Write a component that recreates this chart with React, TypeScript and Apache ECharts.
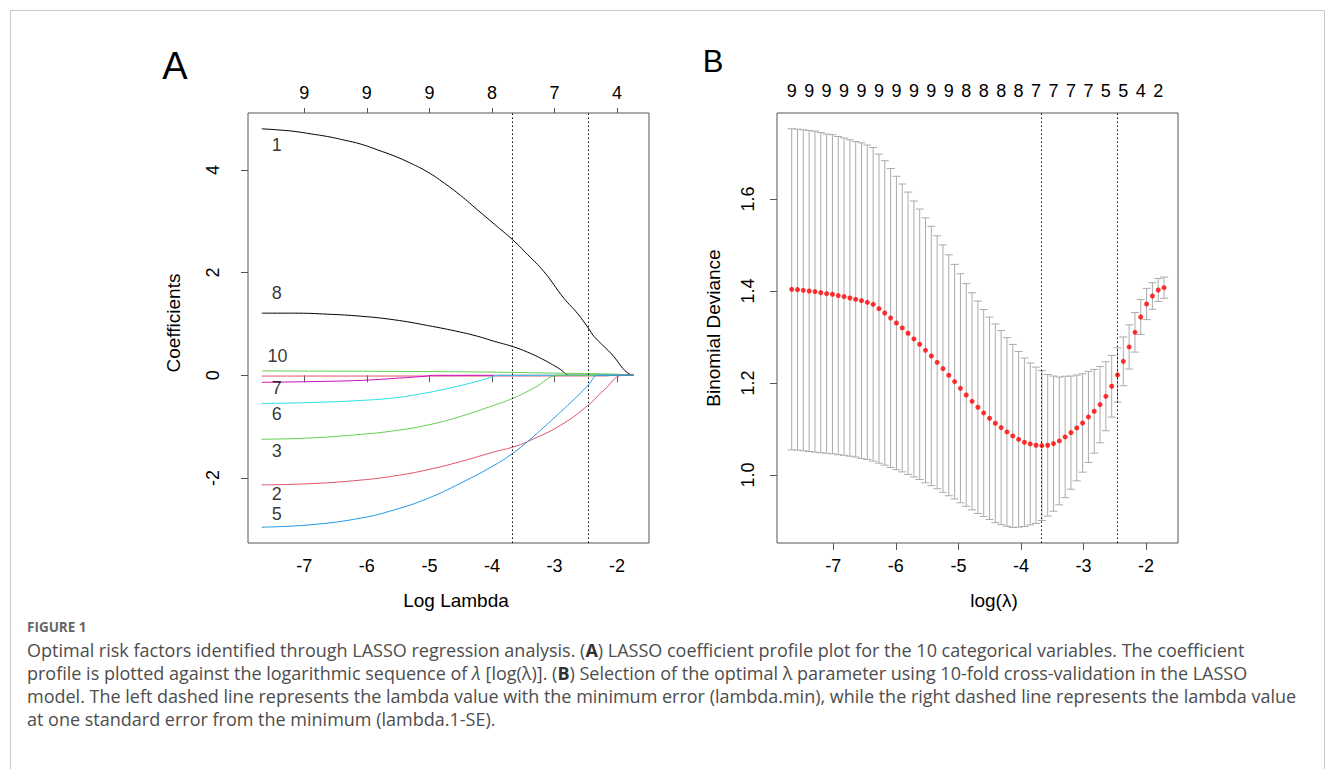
import React, { useEffect, useRef } from "react";
import * as echarts from "echarts";

// ---------- Panel A: LASSO coefficient paths (log lambda vs coefficient) ----------
const xTicks = [-7, -6, -5, -4, -3, -2];
const topLabelsA = ["9", "9", "9", "8", "7", "4"];
const coefTicks = [-2, 0, 2, 4];

const v1X = [-7.68, -7.43, -7.16, -6.89, -6.63, -6.36, -6.09, -5.83, -5.56, -5.3, -5.03, -4.76, -4.5, -4.23, -3.96, -3.67, -3.43, -3.17, -2.85, -2.63, -2.46, -2.37, -2.1, -1.78, -1.73];
const v1Y = [4.8, 4.78, 4.75, 4.7, 4.65, 4.58, 4.5, 4.39, 4.27, 4.13, 3.96, 3.74, 3.5, 3.22, 2.94, 2.64, 2.35, 2.02, 1.5, 1.2, 0.92, 0.76, 0.43, 0.01, 0];
const v8X = [-7.68, -7.16, -6.63, -6.09, -5.56, -5.03, -4.5, -4.23, -3.96, -3.67, -3.43, -3.17, -2.9, -2.77, -2.7, -1.73];
const v8Y = [1.21, 1.21, 1.19, 1.15, 1.08, 0.97, 0.84, 0.76, 0.66, 0.56, 0.45, 0.3, 0.11, 0, 0, 0];
const v10X = [-7.68, -5.83, -4.23, -3.17, -2.1, -1.73];
const v10Y = [0.085, 0.077, 0.065, 0.045, 0.025, 0];
const v9X = [-7.68, -2.2, -2.0, -1.9, -1.73];
const v9Y = [-0.015, -0.012, 0, 0, 0];
const v7X = [-7.68, -6.89, -6.09, -5.56, -5.03, -4.95, -4.85, -1.73];
const v7Y = [-0.137, -0.123, -0.099, -0.06, -0.014, 0, 0, 0];
const v6X = [-7.68, -6.89, -6.09, -5.56, -5.22, -4.68, -4.15, -3.88, -3.78, -1.73];
const v6Y = [-0.55, -0.53, -0.49, -0.44, -0.38, -0.25, -0.09, 0, 0, 0];
const v3X = [-7.68, -6.89, -6.09, -5.56, -5.03, -4.5, -3.96, -3.67, -3.33, -2.93, -2.83, -1.73];
const v3Y = [-1.246, -1.22, -1.15, -1.08, -0.97, -0.8, -0.58, -0.45, -0.25, 0, 0, 0];
const v2X = [-7.68, -6.89, -6.09, -5.56, -5.03, -4.5, -3.96, -3.67, -3.43, -2.9, -2.46, -2.21, -1.91, -1.85, -1.73];
const v2Y = [-2.134, -2.11, -2.04, -1.96, -1.84, -1.68, -1.49, -1.4, -1.29, -0.97, -0.58, -0.29, 0, 0, 0];
const v5X = [-7.68, -6.89, -6.09, -5.56, -5.03, -4.5, -3.96, -3.67, -3.43, -3.17, -2.9, -2.63, -2.46, -2.31, -2.22, -1.73];
const v5Y = [-2.958, -2.91, -2.78, -2.62, -2.4, -2.1, -1.75, -1.52, -1.29, -1.01, -0.71, -0.4, -0.19, 0, 0, 0];

const curveLabelText = ["1", "8", "10", "7", "6", "3", "2", "5"];
const curveLabelX = [-7.44, -7.44, -7.43, -7.44, -7.44, -7.44, -7.44, -7.44];
const curveLabelY = [4.49, 1.6, 0.38, -0.25, -0.75, -1.47, -2.32, -2.7];

const lambdaLines = [-3.666, -2.457];

// ---------- Panel B: cross-validation binomial deviance ----------
const cvLogLambda = [
  -7.665, -7.572, -7.479, -7.386, -7.293, -7.2, -7.107, -7.014, -6.921, -6.828,
  -6.735, -6.642, -6.549, -6.456, -6.363, -6.27, -6.177, -6.084, -5.991, -5.898,
  -5.805, -5.712, -5.619, -5.526, -5.433, -5.34, -5.247, -5.154, -5.061, -4.968,
  -4.875, -4.782, -4.689, -4.596, -4.503, -4.41, -4.317, -4.224, -4.131, -4.038,
  -3.945, -3.852, -3.759, -3.666, -3.573, -3.48, -3.387, -3.294, -3.201, -3.108,
  -3.015, -2.922, -2.829, -2.736, -2.643, -2.55, -2.457, -2.364, -2.271, -2.178,
  -2.085, -1.992, -1.899, -1.806, -1.713,
];
const cvMean = [
  1.4036, 1.4029, 1.4014, 1.4, 1.3986, 1.3964, 1.3942, 1.3928, 1.3899, 1.3877,
  1.3848, 1.3819, 1.379, 1.3754, 1.371, 1.3616, 1.3522, 1.3413, 1.3304, 1.3196,
  1.308, 1.2957, 1.2841, 1.271, 1.2587, 1.2449, 1.2312, 1.2167, 1.2029, 1.1884,
  1.1739, 1.1601, 1.1471, 1.1348, 1.1232, 1.1123, 1.1029, 1.0935, 1.0848, 1.0775,
  1.071, 1.0674, 1.0645, 1.0638, 1.0645, 1.0681, 1.0739, 1.0826, 1.092, 1.1022,
  1.113, 1.1261, 1.1384, 1.1529, 1.171, 1.1928, 1.2174, 1.2471, 1.2783, 1.3101,
  1.3435, 1.3717, 1.3891, 1.4022, 1.4072,
];
const cvSe = [
  0.349, 0.349, 0.349, 0.349, 0.349, 0.348, 0.347, 0.347, 0.346, 0.345,
  0.344, 0.343, 0.343, 0.342, 0.341, 0.336, 0.331, 0.325, 0.319, 0.313,
  0.307, 0.3, 0.294, 0.288, 0.282, 0.275, 0.269, 0.262, 0.255, 0.249,
  0.242, 0.236, 0.231, 0.225, 0.22, 0.216, 0.211, 0.205, 0.199, 0.191,
  0.183, 0.176, 0.17, 0.163, 0.154, 0.147, 0.139, 0.132, 0.123, 0.115,
  0.107, 0.099, 0.091, 0.083, 0.075, 0.067, 0.059, 0.053, 0.048, 0.043,
  0.038, 0.034, 0.029, 0.025, 0.023,
];
const cvTopNz = ["9", "9", "9", "9", "9", "9", "9", "9", "9", "9", "8", "8", "8", "8", "7", "7", "7", "7", "5", "5", "4", "2"];
const devTicks = [1.0, 1.2, 1.4, 1.6];

const FONT = "'Liberation Sans', Arial, Helvetica, sans-serif";
const CAP_FONT = "'Open Sans', 'Noto Sans', sans-serif";

const zip = (xs: number[], ys: number[]) => xs.map((x, i) => [x, ys[i]]);
const nearestIdx = (arr: number[], v: number) => {
  let best = 0;
  for (let i = 1; i < arr.length; i++) if (Math.abs(arr[i] - v) < Math.abs(arr[best] - v)) best = i;
  return best;
};

export default function App() {
  const ref = useRef<HTMLDivElement>(null);
  useEffect(() => {
    const chart = echarts.init(ref.current!, null, { renderer: "svg", width: 1335, height: 769 });
    const cvTopPos = cvTopNz.map((_, i) => cvLogLambda[i * 3]);
    const XMIN = -7.9;
    const XMAX = -1.49;

    const paths = [
      { name: "V1", x: v1X, y: v1Y, color: "#000000" },
      { name: "V8", x: v8X, y: v8Y, color: "#000000" },
      { name: "V10", x: v10X, y: v10Y, color: "#61D04F" },
      { name: "V9", x: v9X, y: v9Y, color: "#DF536B" },
      { name: "V7", x: v7X, y: v7Y, color: "#CD0BBC" },
      { name: "V6", x: v6X, y: v6Y, color: "#28E2E5" },
      { name: "V3", x: v3X, y: v3Y, color: "#61D04F" },
      { name: "V2", x: v2X, y: v2Y, color: "#DF536B" },
      { name: "V5", x: v5X, y: v5Y, color: "#2297E6" },
    ];

    const axisText = { color: "#000", fontSize: 18, fontFamily: FONT };
    const tickStyle = { lineStyle: { color: "#555", width: 1 } };
    const dotted = {
      silent: true,
      symbol: ["none", "none"],
      label: { show: false },
      lineStyle: { color: "#000", width: 1, type: [1.5, 2.5] as any },
      data: lambdaLines.map((v) => ({ xAxis: v })),
    };

    const capStyle = { fontSize: 18, fontFamily: CAP_FONT, fill: "#4d4d4d" };
    const captionRich = {
      b: { ...capStyle, fontWeight: "bold" as any, fill: "#333" },
      i: { ...capStyle, fontStyle: "italic" as any },
    };
    const capLines = [
      "Optimal risk factors identified through LASSO regression analysis. ({b|A}) LASSO coefficient profile plot for the 10 categorical variables. The coefficient",
      "profile is plotted against the logarithmic sequence of {i|λ} [log(λ)]. ({b|B}) Selection of the optimal λ parameter using 10-fold cross-validation in the LASSO",
      "model. The left dashed line represents the lambda value with the minimum error (lambda.min), while the right dashed line represents the lambda value",
      "at one standard error from the minimum (lambda.1-SE).",
    ];

    const option: any = {
      animation: false,
      backgroundColor: "#fff",
      grid: [
        { left: 248, top: 113, width: 401, height: 430, show: true, borderColor: "#555", borderWidth: 1, backgroundColor: "transparent" },
        { left: 777, top: 113, width: 401, height: 430, show: true, borderColor: "#555", borderWidth: 1, backgroundColor: "transparent" },
      ],
      xAxis: [
        {
          type: "value", gridIndex: 0, position: "bottom", min: XMIN, max: XMAX,
          axisLine: { show: false }, splitLine: { show: false },
          axisTick: { show: true, length: 7, customValues: xTicks, ...tickStyle },
          axisLabel: { ...axisText, margin: 14, customValues: xTicks, formatter: (v: number) => String(v) },
        },
        {
          type: "value", gridIndex: 0, position: "top", min: XMIN, max: XMAX,
          axisLine: { show: false }, splitLine: { show: false },
          axisTick: { show: true, length: 5, customValues: xTicks, ...tickStyle },
          axisLabel: { ...axisText, margin: 11, customValues: xTicks, formatter: (v: number) => topLabelsA[nearestIdx(xTicks, v)] },
        },
        {
          type: "value", gridIndex: 1, position: "bottom", min: XMIN, max: XMAX,
          axisLine: { show: false }, splitLine: { show: false },
          axisTick: { show: true, length: 7, customValues: xTicks, ...tickStyle },
          axisLabel: { ...axisText, margin: 14, customValues: xTicks, formatter: (v: number) => String(v) },
        },
        {
          type: "value", gridIndex: 1, position: "top", min: XMIN, max: XMAX,
          axisLine: { show: false }, splitLine: { show: false },
          axisTick: { show: false },
          axisLabel: { ...axisText, margin: 13, customValues: cvTopPos, formatter: (v: number) => cvTopNz[nearestIdx(cvTopPos, v)] },
        },
      ],
      yAxis: [
        {
          type: "value", gridIndex: 0, min: -3.266, max: 5.108,
          axisLine: { show: false }, splitLine: { show: false },
          axisTick: { show: true, length: 7, customValues: coefTicks, ...tickStyle },
          axisLabel: { ...axisText, rotate: 90, margin: 26, customValues: coefTicks, formatter: (v: number) => String(v) },
        },
        {
          type: "value", gridIndex: 1, min: 0.852, max: 1.787,
          axisLine: { show: false }, splitLine: { show: false },
          axisTick: { show: true, length: 7, customValues: devTicks, ...tickStyle },
          axisLabel: { ...axisText, rotate: 90, margin: 20, customValues: devTicks, formatter: (v: number) => v.toFixed(1) },
        },
      ],
      series: [
        ...paths.map((p) => ({
          type: "line", name: p.name, xAxisIndex: 0, yAxisIndex: 0,
          data: zip(p.x, p.y), showSymbol: false, symbol: "none",
          smooth: 0.45,
          lineStyle: { color: p.color, width: 1 }, silent: true, z: 3,
        })),
        {
          type: "scatter", name: "labelsA", xAxisIndex: 0, yAxisIndex: 0,
          symbolSize: 0, silent: true,
          data: curveLabelText.map((t, i) => ({ value: [curveLabelX[i], curveLabelY[i]], name: t })),
          label: { show: true, position: "inside", formatter: (p: any) => p.name, color: "#000", fontSize: 18, fontFamily: FONT },
          markLine: dotted, z: 4,
        },
        {
          type: "custom", name: "cvErr", xAxisIndex: 2, yAxisIndex: 1, silent: true,
          data: cvLogLambda.map((x, i) => [x, cvMean[i] - cvSe[i], cvMean[i] + cvSe[i]]),
          renderItem: (params: any, api: any) => {
            const lo = api.coord([api.value(0), api.value(1)]);
            const hi = api.coord([api.value(0), api.value(2)]);
            const w = 4;
            const st = { stroke: "#ABABAB", lineWidth: 1 };
            return {
              type: "group",
              children: [
                { type: "line", shape: { x1: lo[0], y1: lo[1], x2: hi[0], y2: hi[1] }, style: st },
                { type: "line", shape: { x1: lo[0] - w, y1: lo[1], x2: lo[0] + w, y2: lo[1] }, style: st },
                { type: "line", shape: { x1: hi[0] - w, y1: hi[1], x2: hi[0] + w, y2: hi[1] }, style: st },
              ],
            };
          },
          z: 2,
        },
        {
          type: "scatter", name: "cvMean", xAxisIndex: 2, yAxisIndex: 1,
          data: zip(cvLogLambda, cvMean), symbol: "circle", symbolSize: 5,
          itemStyle: { color: "#FF0000" }, silent: true, z: 3,
          markLine: dotted,
        },
      ],
      graphic: [
        { type: "rect", shape: { x: 10.5, y: 10.5, width: 1314, height: 800 }, style: { fill: "none", stroke: "#C8C8C8", lineWidth: 1 }, silent: true },
        { type: "text", x: 175, y: 66, style: { text: "A", fontSize: 38, fontFamily: FONT, fill: "#000", align: "center", verticalAlign: "middle" } },
        { type: "text", x: 713, y: 61, style: { text: "B", fontSize: 31, fontFamily: FONT, fill: "#000", align: "center", verticalAlign: "middle" } },
        { type: "text", x: 456, y: 600, style: { text: "Log Lambda", fontSize: 19, fontFamily: FONT, fill: "#000", align: "center", verticalAlign: "middle" } },
        { type: "text", x: 994, y: 600, style: { text: "log(λ)", fontSize: 19, fontFamily: FONT, fill: "#000", align: "center", verticalAlign: "middle" } },
        { type: "text", x: 173, y: 323, rotation: Math.PI / 2, style: { text: "Coefficients", fontSize: 19, fontFamily: FONT, fill: "#000", align: "center", verticalAlign: "middle" } },
        { type: "text", x: 713, y: 328, rotation: Math.PI / 2, style: { text: "Binomial Deviance", fontSize: 19, fontFamily: FONT, fill: "#000", align: "center", verticalAlign: "middle" } },
        { type: "text", x: 27, y: 627, style: { text: "FIGURE 1", fontSize: 13.5, fontWeight: "bold", fontFamily: CAP_FONT, fill: "#666", verticalAlign: "middle" } },
        ...capLines.map((t, i) => ({
          type: "text", x: 27, y: 650 + i * 23,
          style: { text: t, rich: captionRich, ...capStyle, verticalAlign: "middle" },
        })),
      ],
    };
    chart.setOption(option);
    return () => chart.dispose();
  }, []);
  return <div ref={ref} style={{ position: "fixed", left: 0, top: 0, width: 1335, height: 769, background: "#fff" }} />;
}
